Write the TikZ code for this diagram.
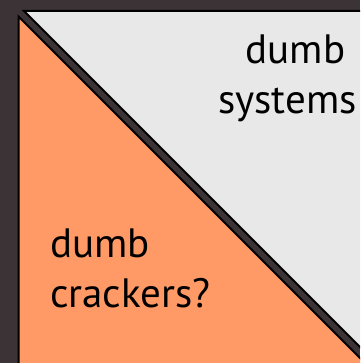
\documentclass[tikz,border=0pt]{standalone}
\usepackage{fontspec}
\setmainfont{PT Sans}
\usetikzlibrary{positioning}
\definecolor{slate}{HTML}{3B3335}
\definecolor{panelgray}{HTML}{E8E8E8}
\definecolor{crackorange}{HTML}{FF9966}
\tikzset{
  halfpanel/.style={draw=black,line width=2pt},
  biglabel/.style={font=\fontsize{41}{50}\selectfont,inner sep=0pt,anchor=base,text=black}
}

\begin{document}
\begin{tikzpicture}[x=1pt,y=-1pt]
  \fill[slate] (0,0) rectangle (360,363);
  \useasboundingbox (0,0) rectangle (360,363);
  % the two halves run off the frame on the right and bottom
  \begin{scope}
    \clip (0,0) rectangle (360,363);
    \filldraw[halfpanel,fill=panelgray] (24,11) -- (380,11) -- (380,367) -- cycle;
    \filldraw[halfpanel,fill=crackorange] (18.5,16.5) -- (18.5,380) -- (382,380) -- cycle;
  \end{scope}
  \node[biglabel] (sysline1) at (295.5,64) {dumb};
  \node[biglabel] (sysline2) at (287.5,114) {systems};
  \node[biglabel,anchor=base west] (crkline1) at (50,257) {dumb};
  \node[biglabel,anchor=base west] (crkline2) at (50,307) {crackers?};
\end{tikzpicture}
\end{document}
